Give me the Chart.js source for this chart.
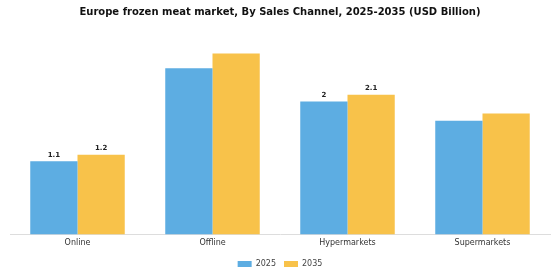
<!DOCTYPE html>
<html>
<head>
<meta charset="utf-8">
<script src="https://cdn.jsdelivr.net/npm/chart.js@4/dist/chart.umd.min.js"></script>
<style>
  html, body { margin: 0; padding: 0; background: #fff; }
  #wrap { width: 560px; height: 280px; }
</style>
</head>
<body>
<div id="wrap"><canvas id="myChart" width="560" height="280"></canvas></div>
<script>
var categories = ["Online", "Offline", "Hypermarkets", "Supermarkets"];
var values2025 = [1.1, 2.5, 2.0, 1.71];
var values2035 = [1.2, 2.72, 2.1, 1.82];
var labels2025 = ["1.1", "", "2", ""];
var labels2035 = ["1.2", "", "2.1", ""];

var valueLabels = {
  id: "valueLabels",
  afterDatasetsDraw: function (chart) {
    var ctx = chart.ctx;
    var texts = [labels2025, labels2035];
    ctx.save();
    ctx.font = "bold 7px 'DejaVu Sans'";
    ctx.fillStyle = "#222";
    ctx.textAlign = "center";
    ctx.textBaseline = "bottom";
    chart.data.datasets.forEach(function (ds, i) {
      chart.getDatasetMeta(i).data.forEach(function (bar, j) {
        if (texts[i][j]) ctx.fillText(texts[i][j], bar.x, bar.y - 3);
      });
    });
    ctx.restore();
  }
};

var chart = new Chart("myChart", {
  type: "bar",
  data: {
    labels: categories,
    datasets: [
      { label: "2025", data: values2025, backgroundColor: "#5dade2" },
      { label: "2035", data: values2035, backgroundColor: "#f8c24a" }
    ]
  },
  options: {
    responsive: false,
    animation: false,
    layout: { padding: { left: 10, right: 10, top: 0, bottom: 2 } },
    datasets: { bar: { categoryPercentage: 0.7, barPercentage: 1.0 } },
    plugins: {
      title: {
        display: true,
        text: "Europe frozen meat market, By Sales Channel, 2025-2035 (USD Billion)",
        font: { family: "'DejaVu Sans'", size: 10, weight: "bold" },
        color: "#111",
        padding: { top: 6, bottom: 17 }
      },
      legend: {
        position: "bottom",
        labels: {
          boxWidth: 14, boxHeight: 6,
          font: { family: "'DejaVu Sans'", size: 8 },
          color: "#444",
          padding: 8
        }
      },
      tooltip: { enabled: false }
    },
    scales: {
      x: {
        grid: { display: false, drawTicks: false },
        border: { color: "#ddd" },
        ticks: { padding: 4, font: { family: "'DejaVu Sans'", size: 8 }, color: "#333" }
      },
      y: {
        display: false,
        min: 0, max: 3
      }
    }
  },
  plugins: [valueLabels]
});
</script>
</body>
</html>
